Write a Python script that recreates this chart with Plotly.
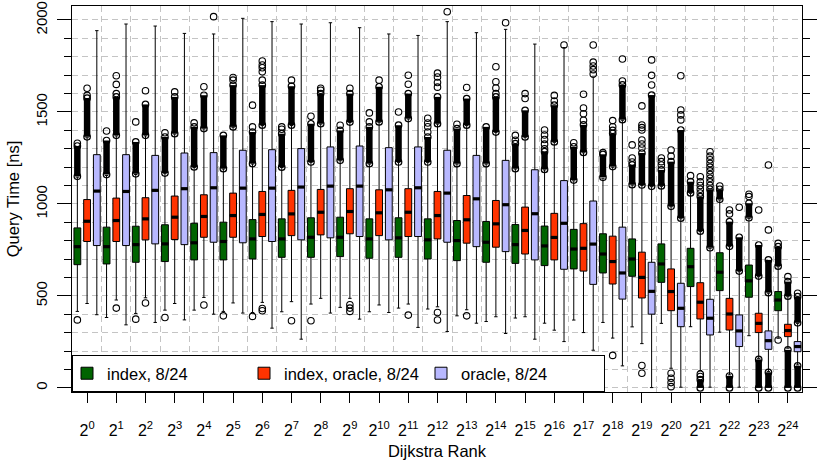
import plotly.graph_objects as go

# ---------------- data ----------------
rank_labels = ["2<sup>0</sup>", "2<sup>1</sup>", "2<sup>2</sup>", "2<sup>3</sup>", "2<sup>4</sup>",
               "2<sup>5</sup>", "2<sup>6</sup>", "2<sup>7</sup>", "2<sup>8</sup>", "2<sup>9</sup>",
               "2<sup>10</sup>", "2<sup>11</sup>", "2<sup>12</sup>", "2<sup>13</sup>", "2<sup>14</sup>",
               "2<sup>15</sup>", "2<sup>16</sup>", "2<sup>17</sup>", "2<sup>18</sup>", "2<sup>19</sup>",
               "2<sup>20</sup>", "2<sup>21</sup>", "2<sup>22</sup>", "2<sup>23</sup>", "2<sup>24</sup>"]

series_names = ["index, 8/24", "index, oracle, 8/24", "oracle, 8/24"]
series_colors = ["#006400", "#FF3300", "#B8B8FF"]

# index, 8/24
idx_q1 = [670, 674, 683, 687, 696, 696, 701, 710, 710, 714, 705, 710, 701, 692, 683, 677, 665, 647, 625, 607, 574, 551, 529, 493, 420]
idx_med = [768, 768, 779, 783, 789, 796, 810, 810, 819, 819, 810, 816, 805, 801, 792, 779, 772, 755, 728, 701, 674, 659, 629, 582, 478]
idx_q3 = [870, 874, 879, 887, 895, 901, 915, 919, 925, 928, 919, 925, 919, 910, 905, 888, 880, 862, 838, 810, 783, 759, 735, 668, 524]
idx_lo = [416, 383, 405, 423, 423, 416, 410, 414, 456, 438, 414, 434, 429, 392, 361, 380, 352, 369, 356, 332, 351, 333, 303, 284, 270]
idx_hi = [1146, 1155, 1160, 1165, 1198, 1190, 1217, 1198, 1226, 1235, 1217, 1226, 1226, 1217, 1217, 1190, 1185, 1126, 1140, 1103, 1096, 1058, 1022, 922, 659]
idx_up_dense = [[1150, 1315], [1160, 1345], [1164, 1337], [1168, 1364], [1201, 1419], [1192, 1373],
                [1219, 1391], [1200, 1382], [1228, 1436], [1237, 1400], [1219, 1419], [1228, 1428],
                [1228, 1364], [1219, 1410], [1219, 1419], [1192, 1328], [1188, 1284], [1130, 1311],
                [1145, 1270], [1105, 1212], [1098, 1185], [1060, 1121], [1025, 1080], [925, 1004], [662, 768]]
idx_up_out = [[1330], [1397], [1446], [1387], [1441], [], [1419, 1537], [1406, 1419], [1477], [1428],
              [1446, 1495], [1500], [1391, 1420, 1440, 1466], [1433], [], [1346, 1373],
              [1300, 1325, 1350, 1375, 1402], [1333], [1279], [1228, 1250, 1321], [1212, 1230, 1250],
              [1154], [1098], [1040, 1053], [786]]
idx_low_dense = [None] * 25
idx_low_out = [[370], [], [374], [383], [], [392], [389], [], [365], [], [], [], [], [], [], [], [], [], [], [],
               [], [], [], [], [261]]

# index, oracle, 8/24
ixo_q1 = [796, 796, 805, 807, 819, 819, 823, 828, 832, 838, 828, 823, 810, 787, 765, 728, 696, 635, 565, 489, 420, 375, 315, 301, 279]
ixo_med = [906, 910, 919, 928, 932, 937, 943, 946, 955, 959, 952, 955, 937, 914, 892, 856, 818, 759, 687, 601, 524, 466, 402, 351, 312]
ixo_q3 = [1024, 1032, 1034, 1043, 1050, 1059, 1068, 1074, 1079, 1083, 1077, 1083, 1068, 1046, 1019, 983, 949, 893, 825, 738, 647, 572, 487, 406, 346]
ixo_lo = [459, 478, 490, 459, 492, 462, 465, 469, 487, 487, 451, 456, 441, 425, 387, 387, 314, 301, 271, 241, 107, 95, 71, 161, 216]
ixo_hi = [1360, 1370, 1370, 1380, 1408, 1417, 1426, 1426, 1434, 1443, 1444, 1462, 1434, 1426, 1389, 1362, 1335, 1278, 1200, 1100, 985, 850, 768, 605, 496]
ixo_up_dense = [[1365, 1575], [1373, 1582], [1373, 1541], [1382, 1582], [1410, 1591], [1419, 1646],
                [1428, 1646], [1428, 1640], [1436, 1600], [1445, 1600], [1446, 1637], [1464, 1600],
                [1436, 1582], [1428, 1573], [1391, 1582], [1364, 1509], [1337, 1537], [1280, 1430],
                [1203, 1384], [1103, 1277], [987, 1230], [852, 1040], [770, 904], [608, 777], [499, 578]]
ixo_up_out = [[1590, 1629], [1600, 1650, 1697], [1615], [1609], [1637], [1673, 1687],
              [1673, 1718, 1740, 1755, 1777], [1673], [1618, 1629], [1629], [1673], [1651, 1700],
              [1635, 1660, 1690, 1711], [1633], [1600, 1630, 1664, 1746], [1573, 1600], [1560, 1590],
              [1455, 1490, 1522, 1596], [1400, 1420, 1453], [1304, 1326, 1348, 1402, 1415, 1429, 1533],
              [1260, 1293], [1060, 1080, 1100, 1120, 1148], [946, 967], [967], [605]]
ixo_low_dense = [None] * 21 + [[0, 45], [0, 65], [0, 155], [0, 207]]
ixo_low_out = [[], [434], [462], [], [451], [], [432, 420], [365], [], [452, 434, 416], [], [396], [410, 369],
               [392], [], [], [], [], [177], [122, 80], [80, 53, 29, 7], [62, 75], [], [], []]

# oracle, 8/24
orc_q1 = [774, 774, 783, 779, 792, 789, 796, 805, 816, 823, 805, 823, 792, 768, 741, 696, 645, 563, 483, 401, 333, 288, 225, 210, 197]
orc_med = [1070, 1068, 1074, 1083, 1088, 1086, 1086, 1092, 1097, 1097, 1077, 1088, 1059, 1028, 996, 947, 895, 782, 625, 525, 433, 379, 310, 257, 225]
orc_q3 = [1268, 1268, 1264, 1277, 1279, 1292, 1295, 1301, 1310, 1315, 1306, 1310, 1292, 1264, 1237, 1186, 1127, 1016, 874, 683, 569, 482, 397, 310, 252]
orc_lo = [398, 343, 356, 370, 401, 407, 325, 265, 407, 374, 410, 329, 307, 352, 296, 265, 252, 205, 120, 2, 4, 4, 4, 89, 125]
orc_hi = [1942, 1978, 1967, 1927, 1924, 2009, 1991, 1978, 1985, 1958, 1924, 1916, 1991, 1931, 1949, 1869, 1850, 1690, 1455, 1094, 920, 759, 632, 515, 351]
orc_up_dense = [None] * 18 + [[1458, 1647], [1096, 1592], [923, 1402], [762, 1080], [635, 819], [518, 696], [354, 496]]
orc_up_out = [[], [], [], [], [2018], [], [], [], [], [], [], [], [2045], [], [1985], [], [1864],
              [1706, 1730, 1750, 1771, 1864], [1668, 1788], [1647, 1699, 1783], [1457, 1484, 1511, 1697],
              [1100, 1120, 1140, 1160, 1180, 1200, 1220, 1240, 1260, 1284], [982], [859, 1212], [515]]
orc_low_dense = [None] * 23 + [[0, 85], [0, 120]]
orc_low_out = [[] for _ in range(25)]

y_ticks = [0, 500, 1000, 1500, 2000]

series = [
    (idx_q1, idx_med, idx_q3, idx_lo, idx_hi, idx_up_dense, idx_up_out, idx_low_dense, idx_low_out),
    (ixo_q1, ixo_med, ixo_q3, ixo_lo, ixo_hi, ixo_up_dense, ixo_up_out, ixo_low_dense, ixo_low_out),
    (orc_q1, orc_med, orc_q3, orc_lo, orc_hi, orc_up_dense, orc_up_out, orc_low_dense, orc_low_out),
]

# ---------------- figure ----------------
n_groups = len(rank_labels)
FONT = "Liberation Sans, Arial, Helvetica, sans-serif"
fig = go.Figure()

dense_x, dense_y, out_x, out_y, med_x, med_y = [], [], [], [], [], []
for j, (q1, med, q3, lo, hi, upd, upo, lod, loo) in enumerate(series):
    pos = [3 * i + j for i in range(n_groups)]
    fig.add_trace(go.Box(
        x=pos, q1=q1, median=med, q3=q3, lowerfence=lo, upperfence=hi,
        name=series_names[j], fillcolor=series_colors[j],
        line=dict(color="black", width=1), width=0.7, whiskerwidth=0.5,
        boxpoints=False, hoverinfo="skip", showlegend=True))
    for i in range(n_groups):
        med_x.append(pos[i]); med_y.append(med[i])
        for rng in (upd[i], lod[i]):
            if rng is not None:
                dense_x += [pos[i], pos[i], None]
                dense_y += [rng[0], rng[1], None]
        for v in upo[i] + loo[i]:
            out_x.append(pos[i]); out_y.append(v)

fig.add_trace(go.Scatter(x=med_x, y=med_y, mode="markers", showlegend=False, hoverinfo="skip",
                         marker=dict(symbol="line-ew", size=5, line=dict(color="black", width=3.2))))
fig.add_trace(go.Scatter(x=dense_x, y=dense_y, mode="lines+markers", showlegend=False, hoverinfo="skip",
                         line=dict(color="black", width=6.5),
                         marker=dict(symbol="circle-open", size=6.5, color="black", line=dict(width=1.2))))
fig.add_trace(go.Scatter(x=out_x, y=out_y, mode="markers", showlegend=False, hoverinfo="skip",
                         marker=dict(symbol="circle-open", size=6.5, color="black", line=dict(width=1.1))))

x_range = [-0.55, 3 * n_groups - 0.55]
group_bounds = [3 * i + 2.5 for i in range(n_groups - 1)]
fig.add_trace(go.Scatter(x=[group_bounds[0]], y=[None], xaxis="x2", showlegend=False, hoverinfo="skip"))

grid_col = "#C4C4C4"
grid_dash = "6px,4px"
fig.update_layout(
    width=817, height=460,
    margin=dict(l=72, r=15, t=6, b=68, autoexpand=False),
    plot_bgcolor="white", paper_bgcolor="white",
    font=dict(family=FONT, size=15, color="black"),
    boxmode="overlay",
    legend=dict(orientation="h", x=0, y=0, xanchor="left", yanchor="bottom",
                bgcolor="white", bordercolor="black", borderwidth=1,
                font=dict(size=16.5), entrywidth=138, entrywidthmode="pixels",
                indentation=-6, traceorder="normal"),
    xaxis=dict(range=x_range, tickmode="array", tickvals=[3 * i + 1 for i in range(n_groups)],
               ticktext=rank_labels, ticks="outside", ticklen=10, tickcolor="black", tickwidth=1,
               showline=True, linecolor="black", linewidth=1, mirror=True, automargin=False,
               showgrid=False, zeroline=False, tickfont=dict(size=16), ticklabelstandoff=14,
               title=dict(text="Dijkstra Rank", font=dict(size=16.5), standoff=7)),
    xaxis2=dict(overlaying="x", range=x_range, tickmode="array", tickvals=group_bounds,
                showticklabels=False, ticks="", showgrid=True, gridcolor=grid_col, automargin=False,
                griddash=grid_dash, gridwidth=1, zeroline=False, showline=False),
    yaxis=dict(range=[-22, 2076], tickmode="array", tickvals=y_ticks, ticks="outside", ticklen=14,
               tickcolor="black", tickwidth=1, tickangle=-90, tickfont=dict(size=15),
               ticklabelstandoff=4,
               showgrid=True, gridcolor=grid_col, griddash=grid_dash, gridwidth=1, automargin=False,
               minor=dict(dtick=100, tick0=0, ticks="outside", ticklen=7, tickcolor="black",
                          showgrid=True, gridcolor=grid_col, griddash=grid_dash, gridwidth=1),
               showline=True, linecolor="black", linewidth=1, mirror="ticks", zeroline=False,
               title=dict(text="Query Time [ns]", font=dict(size=16.5), standoff=9)),
)

fig.write_html("out.html", config={"displayModeBar": False},
               post_script="document.body.style.margin='0px';")
